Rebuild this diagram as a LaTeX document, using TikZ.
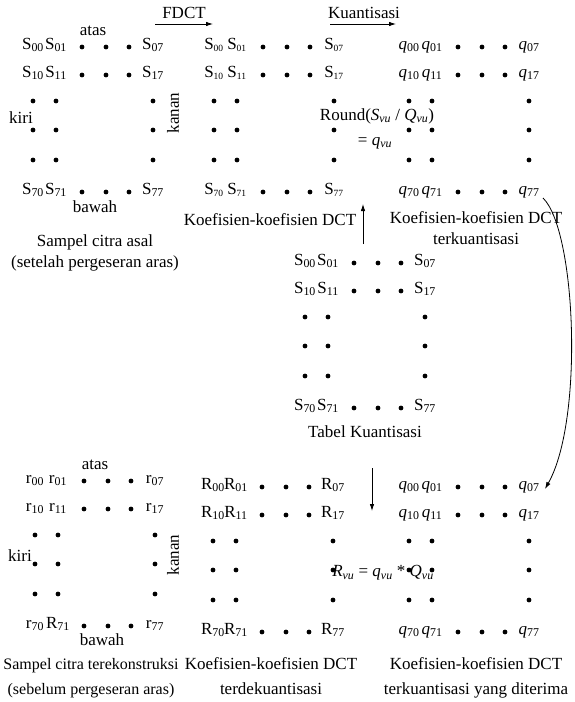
\documentclass[tikz,border=0pt]{standalone}
\usepackage{fontspec}
\setmainfont{Liberation Serif}
\usetikzlibrary{arrows.meta}
\newcommand{\fs}{\fontsize{17}{21}\selectfont}
\newcommand{\el}[2]{#1\textsubscript{#2}}
\newcommand{\els}[2]{#1\textsubscript{\fontsize{9.5}{9.5}\selectfont#2}}
\newcommand{\qq}[1]{\textit{q}\textsubscript{#1}}
\newcommand{\rr}[1]{\ifnum#1=71 \el{R}{#1}\else\el{r}{#1}\fi}
\newcommand{\vu}{\textsubscript{\textit{vu}}}
% dot pattern of one 8x8 block, corner entry at (#1,#2)
\newcommand{\titik}[2]{%
  \foreach \dx in {49,73,96}{
    \fill (#1+\dx,#2) circle (2.4pt);
    \fill (#1+\dx,#2+28) circle (2.4pt);
    \fill (#1+\dx,#2+145) circle (2.4pt);}
  \foreach \dy in {54,83,113}{
    \fill (#1,#2+\dy) circle (2.4pt);
    \fill (#1+23,#2+\dy) circle (2.4pt);
    \fill (#1+120,#2+\dy) circle (2.4pt);}
}
% one block: #1 name, #2 x, #3 y, #4 entry macro
\newcommand{\matriks}[4]{%
  \titik{#2}{#3}
  \foreach \rw/\yy in {0/0,1/28,7/145}
    \foreach \kl/\xx in {0/0,1/23,7/120}
      \node[ent] (#1\rw\kl) at (#2+\xx,#3+\yy) {#4{\rw\kl}};
}
\tikzset{
  ent/.style={font=\fs,inner sep=0pt,anchor=mid},
  lbl/.style={font=\fs,inner sep=0pt,align=center},
  lblb/.style={lbl,font=\fontsize{17}{25}\selectfont},
  ar/.style={-{Latex[length=7pt,width=4.5pt]},line width=0.8pt}
}
\begin{document}
\begin{tikzpicture}[x=1pt,y=-1pt]
\useasboundingbox (0,0) rectangle (574,702);

% sampel citra asal
\matriks{a}{33}{47}{\el{S}}
\node[lbl] (atas1) at (93,31) {atas};
\node[lbl] (kiri1) at (21,118) {kiri};
\node[lbl,rotate=90] (kanan1) at (173,113) {kanan};
\node[lbl] (bawah1) at (95,207) {bawah};
\node[lbl] (cap1) at (95,253) {Sampel citra asal\\(setelah pergeseran aras)};

% FDCT
\node[lbl] (fdct) at (184,13) {FDCT};
\coordinate (f1) at (155,24);
\coordinate (f2) at (213,24);
\draw[ar] (f1) -- (f2);

% koefisien DCT
\matriks{b}{214}{47}{\els{S}}
\node[lbl] (cap2) at (270,220) {Koefisien-koefisien DCT};

% kuantisasi
\node[lbl] (kuan) at (364,13) {Kuantisasi};
\coordinate (k1) at (330,24);
\coordinate (k2) at (396,24);
\draw[ar] (k1) -- (k2);
\node[lbl] (rnd) at (377,116) {Round(\textit{S}\vu\ / \textit{Q}\vu)};
\node[lbl] (eqq) at (375,143) {= \textit{q}\vu};

\matriks{c}{409}{47}{\qq}
\node[lbl] (cap3) at (476,228) {Koefisien-koefisien DCT\\terkuantisasi};

% tabel kuantisasi
\matriks{d}{305}{263}{\el{S}}
\node[lbl] (cap4) at (365,432) {Tabel Kuantisasi};
\coordinate (u1) at (363,244);
\coordinate (u2) at (363,204);
\draw[ar] (u1) -- (u2);
\coordinate (d1) at (372,468);
\coordinate (d2) at (372,511);
\draw[ar] (d1) -- (d2);

% dikirim
\coordinate (t1) at (543,198);
\coordinate (t2) at (545,489);
\draw[ar] (t1) .. controls (576,230) and (584,420) .. (t2);

% dekuantisasi
\matriks{g}{409}{487}{\qq}
\node[lblb] (cap7) at (476,678) {Koefisien-koefisien DCT\\terkuantisasi yang diterima};
\node[lbl] (rvu) at (383,573) {\textit{R}\vu{} = \textit{q}\vu{} * \textit{Q}\vu};

\matriks{f}{213}{487}{\el{R}}
\node[lblb] (cap6) at (271,676) {Koefisien-koefisien DCT\\terdekuantisasi};

% sampel citra terekonstruksi
\matriks{e}{35}{481}{\rr}
\node[lbl] (atas2) at (95,465) {atas};
\node[lbl] (kiri2) at (20,556) {kiri};
\node[lbl,rotate=90] (kanan2) at (173,555) {kanan};
\node[lbl] (bawah2) at (102,640) {bawah};
\node[lblb,font=\fontsize{16}{25}\selectfont] (cap5) at (91,678) {Sampel citra terekonstruksi\\(sebelum pergeseran aras)};
\end{tikzpicture}
\end{document}
